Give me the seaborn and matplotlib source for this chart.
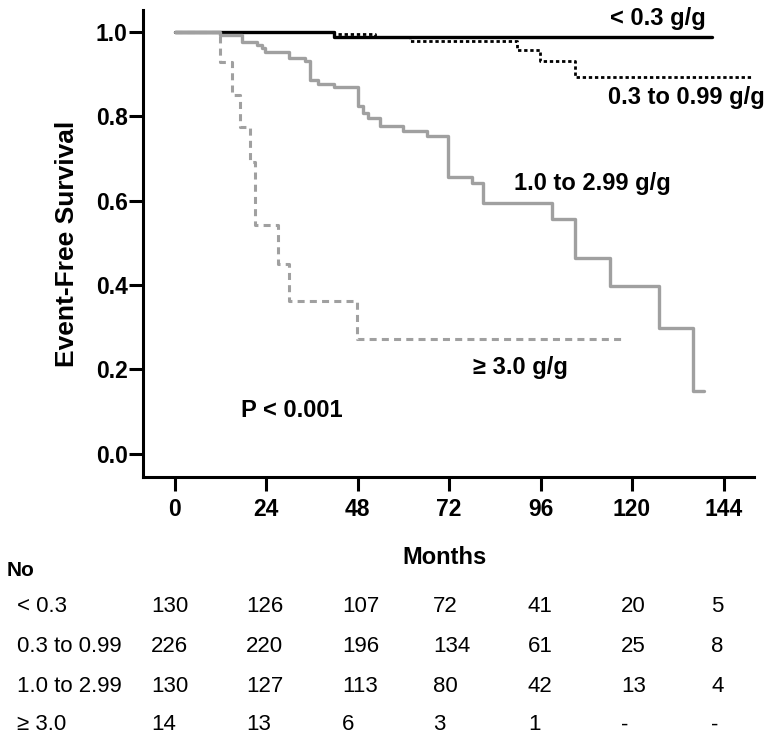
import matplotlib
matplotlib.use("Agg")
import matplotlib.pyplot as plt
import seaborn as sns
import pandas as pd

sns.set_style("ticks")
plt.rcParams["font.family"] = ["Liberation Sans", "DejaVu Sans"]
plt.rcParams.update({"text.color": "black", "axes.labelcolor": "black",
                     "xtick.color": "black", "ytick.color": "black",
                     "axes.edgecolor": "black"})

# survival curves (months, event-free survival)
lt03_t = [0, 41.7, 140.9]
lt03_s = [1.0, 0.989, 0.989]

mid_t = [0, 41.7, 52.6, 61.8, 89.8, 95.9, 105.0, 151.7]
mid_s = [1.0, 0.996, 0.988, 0.978, 0.956, 0.930, 0.894, 0.894]

high_t = [0, 11.9, 17.6, 21.6, 22.9, 23.7, 29.9, 34.2, 35.5, 37.7, 41.7, 48.2, 49.5,
          50.8, 53.9, 60.0, 66.1, 71.8, 78.0, 81.0, 98.9, 105.0, 114.2, 127.1, 136.0, 138.8]
high_s = [1.0, 0.993, 0.977, 0.969, 0.961, 0.952, 0.938, 0.930, 0.886, 0.877, 0.869, 0.825, 0.807,
          0.797, 0.776, 0.764, 0.754, 0.656, 0.641, 0.595, 0.556, 0.464, 0.398, 0.298, 0.150, 0.150]

top_t = [0, 11.9, 15.0, 17.2, 19.8, 21.1, 27.0, 30.1, 47.9, 118.2]
top_s = [1.0, 0.929, 0.851, 0.775, 0.692, 0.543, 0.450, 0.362, 0.272, 0.272]

# numbers at risk
month_ticks = [0, 24, 48, 72, 96, 120, 144]
row_labels = ["< 0.3", "0.3 to 0.99", "1.0 to 2.99", "\u2265 3.0"]
at_risk = [
    ["130", "126", "107", "72", "41", "20", "5"],
    ["226", "220", "196", "134", "61", "25", "8"],
    ["130", "127", "113", "80", "42", "13", "4"],
    ["14", "13", "6", "3", "1", "-", "-"],
]

W, H = 777, 740
fig = plt.figure(figsize=(W / 100, H / 100), dpi=100)
ax = fig.add_axes([143 / W, (H - 477) / H, (754 - 143) / W, (477 - 10) / H])

gray = "#a0a0a0"
sns.lineplot(x=lt03_t, y=lt03_s, ax=ax, color="black", linewidth=2.4,
             drawstyle="steps-post", estimator=None, sort=False)
sns.lineplot(x=mid_t, y=mid_s, ax=ax, color="black", linewidth=2.0,
             linestyle=(0, (1.2, 1.0)), drawstyle="steps-post", estimator=None, sort=False)
sns.lineplot(x=high_t, y=high_s, ax=ax, color=gray, linewidth=2.4,
             drawstyle="steps-post", estimator=None, sort=False)
sns.lineplot(x=top_t, y=top_s, ax=ax, color=gray, linewidth=2.2,
             linestyle=(0, (2.3, 1.7)), drawstyle="steps-post", estimator=None, sort=False)

ax.set_xlim(-8.3, 152)
ax.set_ylim(-0.055, 1.052)
ax.set_xticks(month_ticks)
ax.set_yticks([0.0, 0.2, 0.4, 0.6, 0.8, 1.0])
ax.set_yticklabels(["0.0", "0.2", "0.4", "0.6", "0.8", "1.0"])
for s in ["top", "right"]:
    ax.spines[s].set_visible(False)
for s in ["left", "bottom"]:
    ax.spines[s].set_linewidth(2.2)
    ax.spines[s].set_color("black")
ax.tick_params(axis="both", width=2.2, length=10, labelsize=16.5, colors="black")
ax.tick_params(axis="y", pad=1)
ax.tick_params(axis="x", pad=5)
for lab in ax.get_xticklabels() + ax.get_yticklabels():
    lab.set_fontweight("bold")

ax.set_ylabel("Event-Free Survival", fontsize=19, fontweight="bold", color="black")
ax.yaxis.set_label_coords(-0.105, 0.5)
ax.set_xlabel("")

lab_kw = dict(fontsize=17, fontweight="bold", ha="left", va="center", color="black")
ax.text(114.2, 1.032, "< 0.3 g/g", **lab_kw)
ax.text(113.7, 0.845, "0.3 to 0.99 g/g", **lab_kw)
ax.text(89.0, 0.640, "1.0 to 2.99 g/g", **lab_kw)
ax.text(78.3, 0.204, "\u2265 3.0 g/g", **lab_kw)
ax.text(17.4, 0.102, "P < 0.001", **lab_kw)

# at-risk table below the axes
fig.text(444 / W, 1 - 558 / H, "Months", fontsize=17, fontweight="bold", ha="center", va="center")
fig.text(7 / W, 1 - 571 / H, "No", fontsize=15, fontweight="bold", ha="left", va="center")
col_x = [151, 246, 342, 433, 528, 621, 711]
row_y = [607, 647, 687, 725]
for r, lab in enumerate(row_labels):
    fig.text(17 / W, 1 - row_y[r] / H, lab, fontsize=16, ha="left", va="center")
    for c, val in enumerate(at_risk[r]):
        fig.text(col_x[c] / W, 1 - row_y[r] / H, val, fontsize=16, ha="left", va="center")

fig.savefig("out.png", dpi=100)
